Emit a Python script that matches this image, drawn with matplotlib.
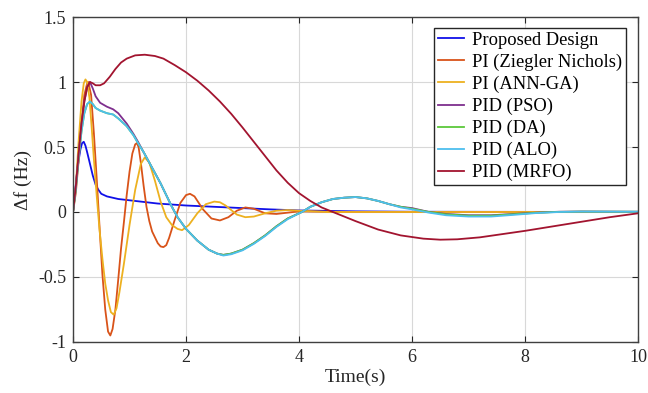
import matplotlib
matplotlib.use("Agg")
import matplotlib.pyplot as plt

# ---------------- data ----------------
t_prop = [0, 0.04, 0.07, 0.1, 0.13, 0.16, 0.19, 0.22, 0.25, 0.3, 0.35, 0.4, 0.45, 0.5, 0.6, 0.7,
          0.8, 1.0, 1.2, 1.5, 2.0, 2.5, 3.0, 3.5, 4.0, 5.0, 6.0, 10.0]
v_prop = [0, 0.17, 0.3, 0.4, 0.48, 0.53, 0.54, 0.51, 0.46, 0.37, 0.28, 0.21, 0.17, 0.14, 0.12, 0.11,
          0.1, 0.09, 0.08, 0.065, 0.05, 0.04, 0.03, 0.02, 0.012, 0.005, 0.002, 0.0]

t_zn = [0, 0.05, 0.1, 0.15, 0.2, 0.25, 0.27, 0.32, 0.37, 0.42, 0.47, 0.52, 0.57, 0.62, 0.66, 0.7,
        0.75, 0.8, 0.85, 0.9, 0.95, 1.0, 1.05, 1.1, 1.13, 1.16, 1.2, 1.25, 1.3, 1.35, 1.4, 1.5,
        1.55, 1.6, 1.65, 1.7, 1.8, 1.9, 2.0, 2.07, 2.15, 2.3, 2.45, 2.6, 2.75, 2.9, 3.05, 3.2, 3.4,
        3.6, 3.8, 4.0, 4.5, 5.0, 10.0]
v_zn = [0, 0.15, 0.4, 0.68, 0.9, 0.99, 1.0, 0.9, 0.6, 0.25, -0.12, -0.48, -0.75, -0.92, -0.95, -0.9,
        -0.75, -0.52, -0.28, -0.08, 0.13, 0.31, 0.45, 0.52, 0.53, 0.5, 0.38, 0.2, 0.04, -0.07, -0.15, -0.24,
        -0.265, -0.27, -0.255, -0.2, -0.06, 0.07, 0.13, 0.14, 0.12, 0.02, -0.05, -0.065, -0.04, 0.01, 0.035, 0.025,
        -0.01, -0.015, -0.005, 0.005, 0.002, 0.0, 0.0]

t_ann = [0, 0.05, 0.1, 0.15, 0.19, 0.22, 0.25, 0.29, 0.33, 0.37, 0.42, 0.47, 0.52, 0.57, 0.62, 0.67,
         0.72, 0.77, 0.82, 0.9, 1.0, 1.1, 1.2, 1.27, 1.35, 1.45, 1.55, 1.65, 1.75, 1.85, 1.93, 2.05,
         2.2, 2.35, 2.5, 2.6, 2.7, 2.9, 3.05, 3.2, 3.4, 3.6, 3.8, 4.0, 4.5, 10.0]
v_ann = [0, 0.2, 0.55, 0.85, 0.99, 1.02, 1.0, 0.88, 0.65, 0.4, 0.12, -0.14, -0.36, -0.55, -0.68, -0.77,
         -0.79, -0.74, -0.62, -0.4, -0.1, 0.17, 0.37, 0.42, 0.38, 0.24, 0.08, -0.04, -0.1, -0.13, -0.14, -0.1,
         -0.01, 0.06, 0.08, 0.075, 0.05, -0.02, -0.04, -0.035, -0.01, 0.01, 0.015, 0.01, 0.0, 0.0]

t_pid = [0, 0.05, 0.1, 0.15, 0.2, 0.25, 0.3, 0.35, 0.4, 0.48, 0.6, 0.71, 0.8, 0.95, 1.07, 1.15, 1.25,
         1.35, 1.45, 1.55, 1.65, 1.75, 1.85, 2.0, 2.2, 2.4, 2.55, 2.66, 2.8, 3.0, 3.2, 3.4, 3.6, 3.8,
         4.05, 4.2, 4.4, 4.6, 4.8, 5.0, 5.2, 5.4, 5.6, 5.8, 6.0, 6.3, 6.6, 7.0, 7.4, 7.8, 8.2, 8.6,
         9.0, 10.0]
v_pso = [0, 0.2, 0.45, 0.68, 0.85, 0.96, 1.0, 0.95, 0.89, 0.84, 0.81, 0.79, 0.76, 0.68, 0.6, 0.54, 0.46,
         0.38, 0.3, 0.22, 0.13, 0.04, -0.04, -0.13, -0.22, -0.29, -0.32, -0.33, -0.32, -0.29, -0.24, -0.18, -0.11, -0.05,
         0.0, 0.04, 0.075, 0.1, 0.11, 0.115, 0.105, 0.085, 0.06, 0.04, 0.03, 0.0, -0.015, -0.025, -0.025, -0.015, -0.005, 0.002,
         0.004, 0.002]
v_da = [0, 0.18, 0.42, 0.62, 0.76, 0.83, 0.85, 0.83, 0.8, 0.78, 0.76, 0.75, 0.72, 0.66, 0.59, 0.53, 0.46,
        0.38, 0.3, 0.22, 0.13, 0.04, -0.04, -0.13, -0.22, -0.29, -0.32, -0.33, -0.32, -0.29, -0.24, -0.18, -0.11, -0.05,
        0.0, 0.04, 0.075, 0.1, 0.11, 0.115, 0.105, 0.085, 0.06, 0.04, 0.025, 0.0, -0.018, -0.028, -0.028, -0.017, -0.006, 0.001,
        0.003, 0.002]
v_alo = [0, 0.18, 0.42, 0.62, 0.76, 0.83, 0.85, 0.83, 0.8, 0.78, 0.76, 0.75, 0.72, 0.66, 0.59, 0.53, 0.46,
         0.38, 0.3, 0.22, 0.13, 0.04, -0.04, -0.13, -0.22, -0.29, -0.32, -0.335, -0.325, -0.295, -0.245, -0.185, -0.115, -0.055,
         0.0, 0.04, 0.075, 0.1, 0.11, 0.115, 0.105, 0.085, 0.06, 0.035, 0.02, -0.005, -0.025, -0.035, -0.035, -0.022, -0.008, 0.0,
         0.003, 0.002]

t_mrfo = [0, 0.05, 0.1, 0.15, 0.2, 0.25, 0.3, 0.35, 0.4, 0.48, 0.55, 0.65, 0.75, 0.85, 0.95, 1.1, 1.27,
          1.45, 1.6, 1.8, 2.0, 2.2, 2.4, 2.6, 2.8, 3.0, 3.2, 3.4, 3.6, 3.8, 4.0, 4.2, 4.4, 4.6, 4.8,
          5.0, 5.4, 5.8, 6.2, 6.5, 6.8, 7.2, 7.6, 8.0, 8.5, 9.0, 9.5, 10.0]
v_mrfo = [0, 0.2, 0.45, 0.68, 0.85, 0.96, 1.0, 0.99, 0.975, 0.975, 0.99, 1.04, 1.1, 1.15, 1.18, 1.205, 1.21,
          1.2, 1.18, 1.13, 1.075, 1.01, 0.935, 0.85, 0.755, 0.65, 0.54, 0.43, 0.32, 0.225, 0.145, 0.085, 0.035, 0.0, -0.035,
          -0.07, -0.135, -0.18, -0.205, -0.213, -0.21, -0.195, -0.17, -0.145, -0.11, -0.075, -0.04, -0.01]

labels = ["Proposed Design", "PI (Ziegler Nichols)", "PI (ANN-GA)", "PID (PSO)",
          "PID (DA)", "PID (ALO)", "PID (MRFO)"]
colors = ["#1010E8", "#D95319", "#EDB120", "#7E2F8E", "#5CC83A", "#4DBEEE", "#A2142F"]

x_ticks = [0, 2, 4, 6, 8, 10]
y_ticks = [-1, -0.5, 0, 0.5, 1, 1.5]
y_tick_labels = ["-1", "-0.5", "0", "0.5", "1", "1.5"]

# ---------------- plot ----------------
plt.rcParams['font.family'] = ['Liberation Serif', 'DejaVu Serif']

fig = plt.figure(figsize=(6.48, 3.93), dpi=100)
ax = fig.add_axes([0.1127, 0.1298, 0.8719, 0.8269])

series = [(t_prop, v_prop), (t_zn, v_zn), (t_ann, v_ann), (t_pid, v_pso),
          (t_pid, v_da), (t_pid, v_alo), (t_mrfo, v_mrfo)]
for (tt, vv), lab, col in zip(series, labels, colors):
    ax.plot(tt, vv, color=col, lw=1.3, label=lab)

ax.set_xlim(0, 10)
ax.set_ylim(-1, 1.5)
ax.set_xticks(x_ticks)
ax.set_xticklabels([str(v) for v in x_ticks])
ax.set_yticks(y_ticks)
ax.set_yticklabels(y_tick_labels)
ax.tick_params(direction='in', top=True, right=True, labelsize=13, length=4,
               color='#262626', labelcolor='#262626', pad=5)
ax.grid(True, color='#D8D8D8', lw=0.8)
ax.set_axisbelow(True)
for s in ax.spines.values():
    s.set_color('#404040')
    s.set_linewidth(1.0)

ax.set_xlabel('Time(s)', fontsize=14, color='#262626', labelpad=2)
ax.set_ylabel('Δf (Hz)', fontsize=14, color='#262626', labelpad=4)

leg = ax.legend(loc='upper right', bbox_to_anchor=(0.9788, 0.966), fontsize=13.3,
                frameon=True, fancybox=False, framealpha=1, edgecolor='#262626',
                handlelength=1.4, handletextpad=0.45, borderpad=0.2, labelspacing=0.26,
                borderaxespad=0)
leg.get_frame().set_linewidth(1.0)

fig.savefig('out.png', dpi=100)
